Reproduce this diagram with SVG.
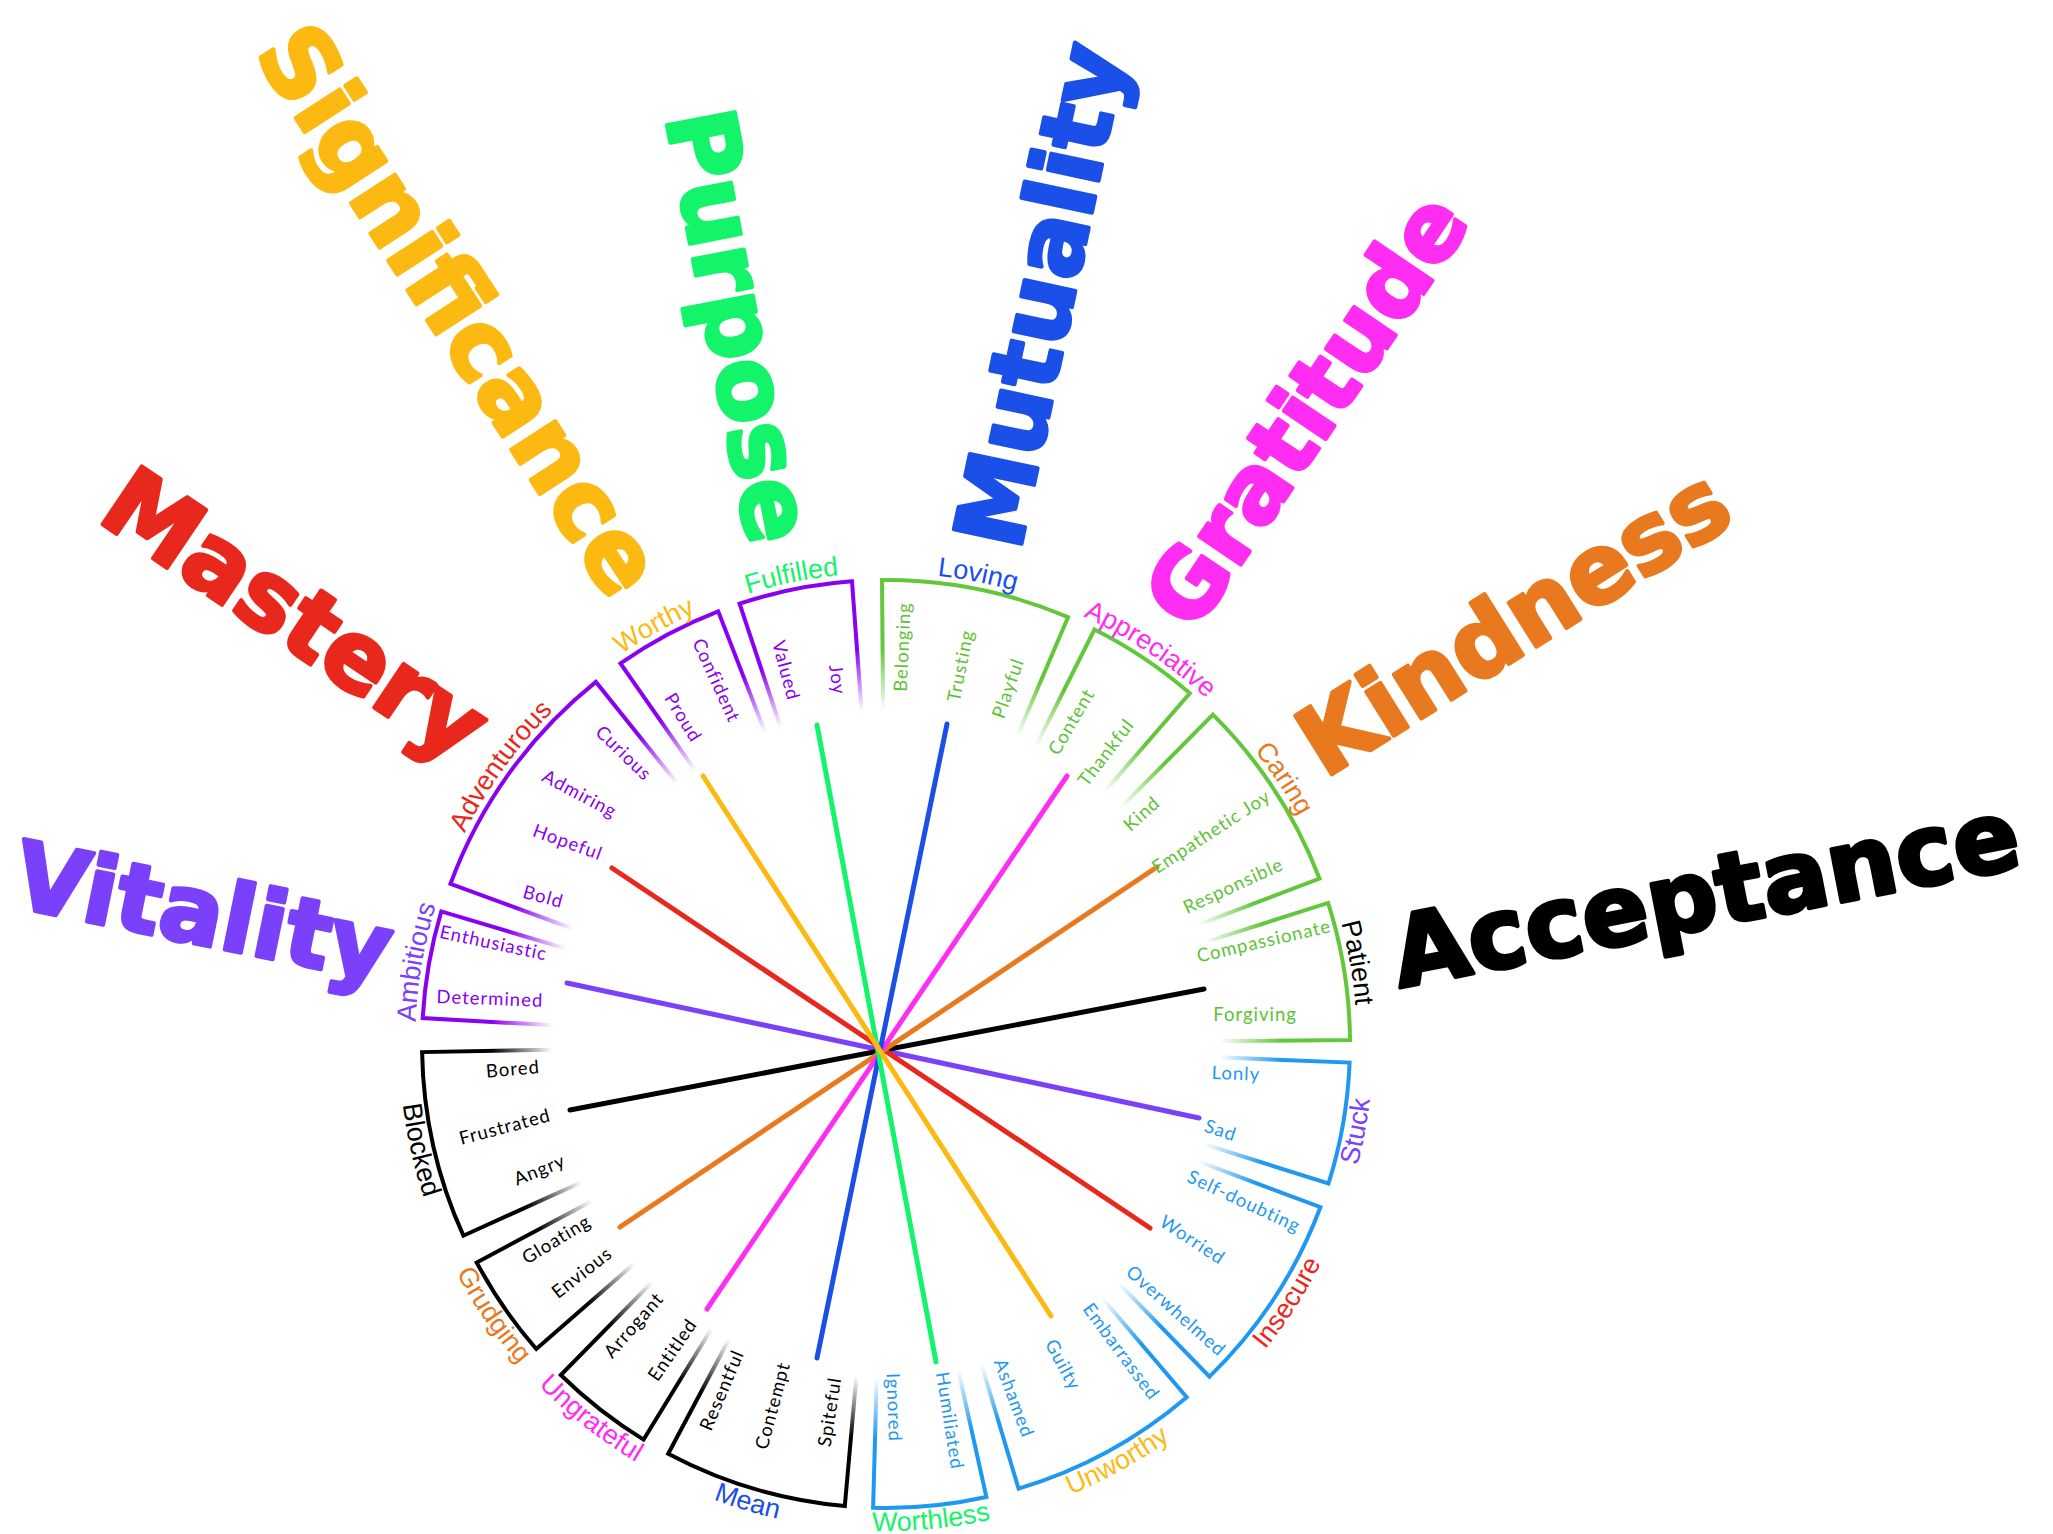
<svg xmlns="http://www.w3.org/2000/svg" width="2053" height="1534" viewBox="0 0 2053 1534">
<defs>
<style>
.big{font-family:"DejaVu Sans",sans-serif;font-weight:bold;text-anchor:middle;stroke-width:4;stroke-linejoin:round}
.grp{font-family:"Liberation Sans",Arial,sans-serif;font-size:27px}
.item{font-family:Lato,"Noto Sans",sans-serif;font-size:18.5px;letter-spacing:1px;dominant-baseline:central}
.s{text-anchor:start}
.e{text-anchor:end}
.box{fill:none;stroke-width:4;stroke-linejoin:miter;mask:url(#fade)}
.pu{stroke:#8a00f0}.gr{stroke:#62c73a}.bl{stroke:#1e98f0}.bk{stroke:#000}
.tpu{fill:#8a00f0}.tgr{fill:#5ec236}.tbl{fill:#1e98f0}.tbk{fill:#000}
#connectors line{stroke-width:5;stroke-linecap:round}
</style>
<radialGradient id="fadeGrad" gradientUnits="userSpaceOnUse" cx="886" cy="1044" r="470">
<stop offset="0.71" stop-color="#000"/>
<stop offset="0.84" stop-color="#fff"/>
<stop offset="1" stop-color="#fff"/>
</radialGradient>
<mask id="fade" maskUnits="userSpaceOnUse" x="0" y="0" width="2053" height="1534"><rect width="2053" height="1534" fill="url(#fadeGrad)"/></mask>
<path id="arcCW" d="M583.2,683.2 A471,471 0 0 1 1188.8,683.2"/>
<path id="arcCCW" d="M573,1417.1 A487,487 0 0 0 1199,1417.1"/>
</defs>
<rect width="2053" height="1534" fill="#fff"/>

<g id="connectors">
<line x1="567" y1="983" x2="1199" y2="1118" stroke="#7a40fa"/>
<line x1="570" y1="1110" x2="1204" y2="989" stroke="#000"/>
<line x1="612" y1="868" x2="1150" y2="1228" stroke="#e8281c"/>
<line x1="620" y1="1227" x2="1157" y2="867" stroke="#e9791e"/>
<line x1="707" y1="1309" x2="1067" y2="776" stroke="#ff2cf2"/>
<line x1="817" y1="1358" x2="947" y2="724" stroke="#1a4fe8"/>
<line x1="817" y1="725" x2="936" y2="1362" stroke="#14f46a"/>
<line x1="703" y1="776" x2="1051" y2="1316" stroke="#fcb912"/>
</g>

<g id="worthy">
<path class="box pu" d="M702.9,781.5 L620.5,663.4 A464,464 0 0 1 718.2,611.4 L770.3,745.7"/>
<text class="grp" fill="#fcb912" transform="rotate(-29 886 1044)"><textPath href="#arcCW" startOffset="50%" text-anchor="middle">Worthy</textPath></text>
<text class="item e tpu" transform="translate(697.6 740) rotate(58.5)">Proud</text>
<text class="item e tpu" transform="translate(735.6 720.9) rotate(65.4)">Confident</text>
</g>

<g id="fulfilled">
<path class="box pu" d="M785,740.4 L739.6,603.7 A464,464 0 0 1 852,581.3 L862.6,724.9"/>
<text class="grp" fill="#14f46a" transform="rotate(-11.4 886 1044)"><textPath href="#arcCW" startOffset="50%" text-anchor="middle">Fulfilled</textPath></text>
<text class="item e tpu" transform="translate(794.4 699.8) rotate(75.15)">Valued</text>
<text class="item e tpu" transform="translate(840 694.5) rotate(82.25)">Joy</text>
</g>

<g id="loving">
<path class="box gr" d="M883.2,724 L882,580 A464,464 0 0 1 1068,617.2 L1011.5,749.7"/>
<text class="grp" fill="#1a4fe8" transform="rotate(11.1 886 1044)"><textPath href="#arcCW" startOffset="50%" text-anchor="middle">Loving</textPath></text>
<text class="item s tgr" transform="translate(899.7 691.7) rotate(-87.5)">Belonging</text>
<text class="item s tgr" transform="translate(952.8 701.3) rotate(-78.8)">Trusting</text>
<text class="item s tgr" transform="translate(997.2 717.4) rotate(-70.9)">Playful</text>
</g>

<g id="appreciative">
<path class="box gr" d="M1029.8,758.1 L1094.5,629.5 A464,464 0 0 1 1189.8,693.3 L1095.5,802.1"/>
<text class="grp" fill="#ff2cf2" transform="rotate(33.8 886 1044)"><textPath href="#arcCW" startOffset="50%" text-anchor="middle">Appreciative</textPath></text>
<text class="item s tgr" transform="translate(1052.4 753) rotate(-59.75)">Content</text>
<text class="item s tgr" transform="translate(1081.5 783.6) rotate(-52.65)">Thankful</text>
</g>

<g id="caring">
<path class="box gr" d="M1111.5,816.9 L1212.9,714.7 A464,464 0 0 1 1319.5,878.5 L1184.9,929.9"/>
<text class="grp" fill="#e9791e" transform="rotate(56.3 886 1044)"><textPath href="#arcCW" startOffset="50%" text-anchor="middle">Caring</textPath></text>
<text class="item s tgr" transform="translate(1125.8 827) rotate(-41.7)">Kind</text>
<text class="item s tgr" transform="translate(1153.4 868.5) rotate(-33.05)">Empathetic Joy</text>
<text class="item s tgr" transform="translate(1184 908) rotate(-24.95)">Responsible</text>
</g>

<g id="patient">
<path class="box gr" d="M1190.9,946.7 L1328.1,902.9 A464,464 0 0 1 1350,1040 L1206,1041.2"/>
<text class="grp" fill="#000" transform="rotate(80.2 886 1044)"><textPath href="#arcCW" startOffset="50%" text-anchor="middle">Patient</textPath></text>
<text class="item s tgr" transform="translate(1196.9 955.8) rotate(-13)">Compassionate</text>
<text class="item s tgr" transform="translate(1213.3 1014) rotate(0)">Forgiving</text>
</g>

<g id="stuck">
<path class="box bl" d="M1205.7,1056.8 L1349.6,1062.6 A464,464 0 0 1 1328.5,1183.5 L1191.2,1140.2"/>
<text class="grp" fill="#7a40fa" transform="rotate(-79.5 886 1044)"><textPath href="#arcCCW" startOffset="50%" text-anchor="middle">Stuck</textPath></text>
<text class="item s tbl" transform="translate(1211.7 1072) rotate(2)">Lonly</text>
<text class="item s tbl" transform="translate(1205.4 1124.7) rotate(18)">Sad</text>
</g>

<g id="insecure">
<path class="box bl" d="M1185.6,1156.6 L1320.4,1207.2 A464,464 0 0 1 1209.5,1376.6 L1109.1,1273.4"/>
<text class="grp" fill="#e8281c" transform="rotate(-57.2 886 1044)"><textPath href="#arcCCW" startOffset="50%" text-anchor="middle">Insecure</textPath></text>
<text class="item s tbl" transform="translate(1188.7 1174.9) rotate(25)">Self-doubting</text>
<text class="item s tbl" transform="translate(1162 1219.1) rotate(33.2)">Worried</text>
<text class="item s tbl" transform="translate(1129.3 1268.5) rotate(41.6)">Overwhelmed</text>
</g>

<g id="unworthy">
<path class="box bl" d="M1093.4,1287.7 L1186.7,1397.3 A464,464 0 0 1 1018.6,1488.7 L977.4,1350.7"/>
<text class="grp" fill="#fcb912" transform="rotate(-29 886 1044)"><textPath href="#arcCCW" startOffset="50%" text-anchor="middle">Unworthy</textPath></text>
<text class="item s tbl" transform="translate(1087.6 1304.9) rotate(53.6)">Embarrassed</text>
<text class="item s tbl" transform="translate(1050.6 1340.5) rotate(61.5)">Guilty</text>
<text class="item s tbl" transform="translate(1000.1 1359.3) rotate(69.4)">Ashamed</text>
</g>

<g id="worthless">
<path class="box bl" d="M955.2,1356.4 L986.4,1497 A464,464 0 0 1 873.1,1507.8 L877.1,1363.9"/>
<text class="grp" fill="#14f46a" transform="rotate(-5.4 886 1044)"><textPath href="#arcCCW" startOffset="50%" text-anchor="middle">Worthless</textPath></text>
<text class="item s tbl" transform="translate(942.7 1371.9) rotate(81)">Humiliated</text>
<text class="item s tbl" transform="translate(893.5 1373) rotate(88)">Ignored</text>
</g>

<g id="mean">
<path class="box bk" d="M857.6,1362.7 L844.8,1506.1 A464,464 0 0 1 668.2,1453.7 L735.8,1326.5"/>
<text class="grp" fill="#1a4fe8" transform="rotate(16.8 886 1044)"><textPath href="#arcCCW" startOffset="50%" text-anchor="middle">Mean</textPath></text>
<text class="item e tbk" transform="translate(834.5 1377.2) rotate(-81.1)">Spiteful</text>
<text class="item e tbk" transform="translate(783.5 1362.4) rotate(-75)">Contempt</text>
<text class="item e tbk" transform="translate(738 1350.5) rotate(-67)">Resentful</text>
</g>

<g id="ungrateful">
<path class="box bk" d="M718.8,1316.8 L643.6,1439.6 A464,464 0 0 1 560.8,1375 L661.7,1272.3"/>
<text class="grp" fill="#ff2cf2" transform="rotate(38.2 886 1044)"><textPath href="#arcCCW" startOffset="50%" text-anchor="middle">Ungrateful</textPath></text>
<text class="item e tbk" transform="translate(692.1 1320.4) rotate(-55.25)">Entitled</text>
<text class="item e tbk" transform="translate(659.4 1294.7) rotate(-48.75)">Arrogant</text>
</g>

<g id="grudging">
<path class="box bk" d="M644.8,1254.4 L536.3,1349 A464,464 0 0 1 476.7,1262.5 L603.7,1194.7"/>
<text class="grp" fill="#e9791e" transform="rotate(55.4 886 1044)"><textPath href="#arcCCW" startOffset="50%" text-anchor="middle">Grudging</textPath></text>
<text class="item e tbk" transform="translate(609.3 1250.5) rotate(-37.85)">Envious</text>
<text class="item e tbk" transform="translate(588.6 1219) rotate(-31.35)">Gloating</text>
</g>

<g id="blocked">
<path class="box bk" d="M594.6,1176.2 L463.4,1235.7 A464,464 0 0 1 422.1,1052.1 L566.1,1049.6"/>
<text class="grp" fill="#000" transform="rotate(77.2 886 1044)"><textPath href="#arcCCW" startOffset="50%" text-anchor="middle">Blocked</textPath></text>
<text class="item e tbk" transform="translate(564.2 1159.1) rotate(-22)">Angry</text>
<text class="item e tbk" transform="translate(550 1114.1) rotate(-15)">Frustrated</text>
<text class="item e tbk" transform="translate(539.6 1066.1) rotate(-4.9)">Bored</text>
</g>

<g id="ambitious">
<path class="box pu" d="M566.5,1026.1 L422.7,1018.1 A464,464 0 0 1 441.3,911.4 L579.3,952.6"/>
<text class="grp" fill="#7a40fa" transform="rotate(-80.1 886 1044)"><textPath href="#arcCW" startOffset="50%" text-anchor="middle">Ambitious</textPath></text>
<text class="item e tpu" transform="translate(543.3 999.8) rotate(2)">Determined</text>
<text class="item e tpu" transform="translate(547.2 953.7) rotate(12)">Enthusiastic</text>
</g>

<g id="adventurous">
<path class="box pu" d="M585.7,933.5 L450.5,883.8 A464,464 0 0 1 595.9,681.9 L685.9,794.3"/>
<text class="grp" fill="#e8281c" transform="rotate(-54.2 886 1044)"><textPath href="#arcCW" startOffset="50%" text-anchor="middle">Adventurous</textPath></text>
<text class="item e tpu" transform="translate(563.2 901.4) rotate(15)">Bold</text>
<text class="item e tpu" transform="translate(602.1 853.9) rotate(20)">Hopeful</text>
<text class="item e tpu" transform="translate(616 812.4) rotate(28)">Admiring</text>
<text class="item e tpu" transform="translate(649.1 776.7) rotate(44)">Curious</text>
</g>

<g id="vitality"><text class="big" fill="#7a40fa" stroke="#7a40fa" font-size="94" transform="translate(197 944) rotate(11.5)">Vitality</text></g>
<g id="mastery"><text class="big" fill="#e8281c" stroke="#e8281c" font-size="96" transform="translate(277 642) rotate(34)">Mastery</text></g>
<g id="significance"><text class="big" fill="#fcb912" stroke="#fcb912" font-size="96" transform="translate(432 328) rotate(57)">Significance</text></g>
<g id="purpose"><text class="big" fill="#14f46a" stroke="#14f46a" font-size="95" transform="translate(707 332) rotate(79)">Purpose</text></g>
<g id="mutuality"><text class="big" fill="#1a4fe8" stroke="#1a4fe8" font-size="95" transform="translate(1073 302) rotate(-78)">Mutuality</text></g>
<g id="gratitude"><text class="big" fill="#ff2cf2" stroke="#ff2cf2" font-size="92" transform="translate(1333 428) rotate(-56)">Gratitude</text></g>
<g id="kindness"><text class="big" fill="#e9791e" stroke="#e9791e" font-size="95" transform="translate(1531 650) rotate(-32)">Kindness</text></g>
<g id="acceptance"><text class="big" fill="#000" stroke="#000" font-size="98" transform="translate(1712 927) rotate(-11)">Acceptance</text></g>
</svg>
